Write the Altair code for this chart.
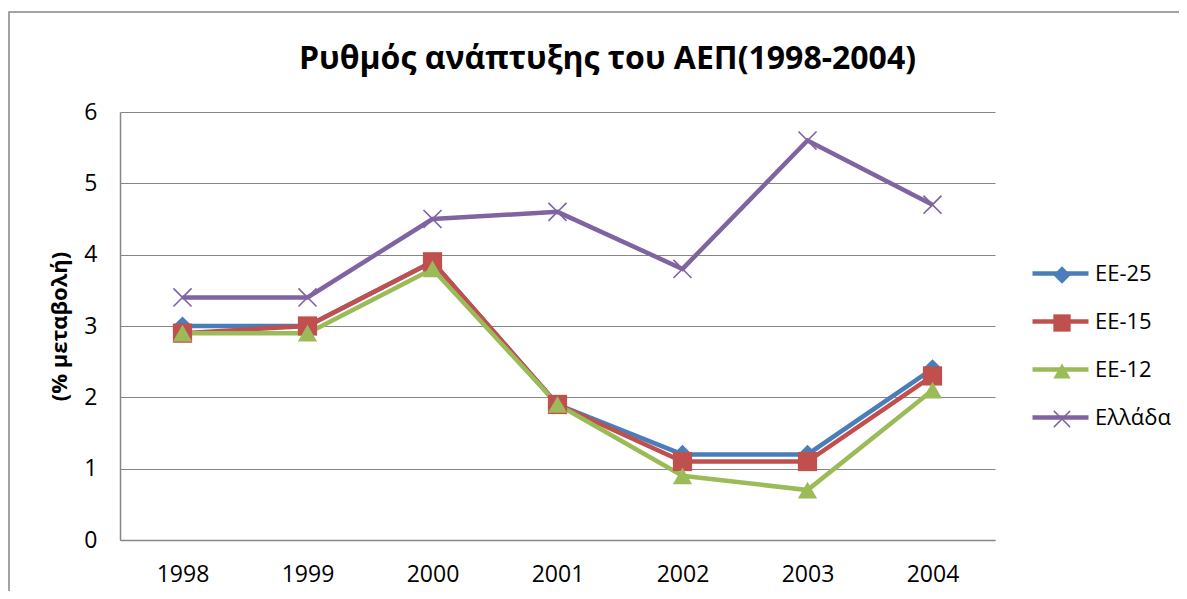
import altair as alt
import pandas as pd

years = ["1998", "1999", "2000", "2001", "2002", "2003", "2004"]
series_names = ["ΕΕ-25", "ΕΕ-15", "ΕΕ-12", "Ελλάδα"]
ee25 = [3.0, 3.0, 3.9, 1.9, 1.2, 1.2, 2.4]
ee15 = [2.9, 3.0, 3.9, 1.9, 1.1, 1.1, 2.3]
ee12 = [2.9, 2.9, 3.8, 1.9, 0.9, 0.7, 2.1]
greece = [3.4, 3.4, 4.5, 4.6, 3.8, 5.6, 4.7]

rows = []
for name, vals in zip(series_names, [ee25, ee15, ee12, greece]):
    for y, v in zip(years, vals):
        rows.append({"year": y, "series": name, "value": v})
df = pd.DataFrame(rows)

colors = ["#4A7EBB", "#C0504D", "#9BBB59", "#8064A2"]
xpath = ("M-1,-0.88L-0.88,-1L0,-0.12L0.88,-1L1,-0.88L0.12,0L1,0.88L0.88,1"
         "L0,0.12L-0.88,1L-1,0.88L-0.12,0Z")
shapes = ["diamond", "square", "triangle-up", xpath]

W, H = 875, 428
FONT = "Open Sans"
LFS = 23

x = alt.X("year:O", sort=years,
          scale=alt.Scale(type="point", padding=0.5),
          axis=alt.Axis(title=None, labelAngle=0, labelFontSize=LFS, labelColor="#000",
                        labelPadding=23, ticks=False, domainColor="#868686",
                        domainWidth=1.5, grid=False, labelFont=FONT))
y = alt.Y("value:Q",
          scale=alt.Scale(domain=[0, 6], nice=False),
          axis=alt.Axis(title="(% μεταβολή)", values=[0, 1, 2, 3, 4, 5, 6],
                        labelFontSize=LFS, labelColor="#000", labelPadding=23,
                        ticks=False, domainColor="#868686", domainWidth=1.5,
                        gridColor="#868686", gridWidth=1, titleFontSize=22,
                        titleFontWeight="bold", titleColor="#000", titlePadding=12,
                        labelFont=FONT, titleFont=FONT))

base = alt.Chart(df)

lines = base.mark_line(strokeWidth=4.5).encode(
    x=x, y=y,
    color=alt.Color("series:N", sort=series_names,
                    scale=alt.Scale(domain=series_names, range=colors),
                    legend=alt.Legend(title=None, orient="none", legendX=910, legendY=131,
                                      symbolType="stroke", symbolSize=3136,
                                      symbolStrokeWidth=4.5, labelFontSize=22,
                                      labelColor="#000", labelFont=FONT,
                                      rowPadding=6, labelOffset=4)),
    detail="series:N",
)

pt_legend = alt.Legend(title=None, orient="none", legendX=931, legendY=152,
                       symbolSize=300, labelFontSize=22, labelOpacity=0,
                       labelFont=FONT, rowPadding=26, labelOffset=4)

points = base.mark_point(filled=True, size=370, opacity=1).encode(
    x=x, y=y,
    color=alt.Color("series:N", sort=series_names,
                    scale=alt.Scale(domain=series_names, range=colors),
                    legend=pt_legend),
    shape=alt.Shape("series:N", sort=series_names,
                    scale=alt.Scale(domain=series_names, range=shapes),
                    legend=pt_legend),
)

frame = alt.Chart(pd.DataFrame({"a": [0]})).mark_rect(
    fill=None, stroke="#868686", strokeWidth=1.5
).encode(x=alt.value(-111), x2=alt.value(1060), y=alt.value(-100), y2=alt.value(520))

chart = alt.layer(frame, lines, points).resolve_legend(
    color="independent", shape="independent"
).resolve_scale(color="shared").properties(
    width=W, height=H,
    background="white",
    title=alt.Title("Ρυθμός ανάπτυξης του ΑΕΠ(1998-2004)", fontSize=32,
                    font=FONT, fontWeight="bold", color="#000", anchor="middle",
                    dx=50, dy=65, offset=0),
    autosize=alt.AutoSizeParams(type="none"),
    padding={"left": 112, "top": 104, "right": 184, "bottom": 51},
).configure_view(stroke="transparent", strokeWidth=0)

chart.save("out.html", embed_options={"renderer": "svg", "actions": False})
